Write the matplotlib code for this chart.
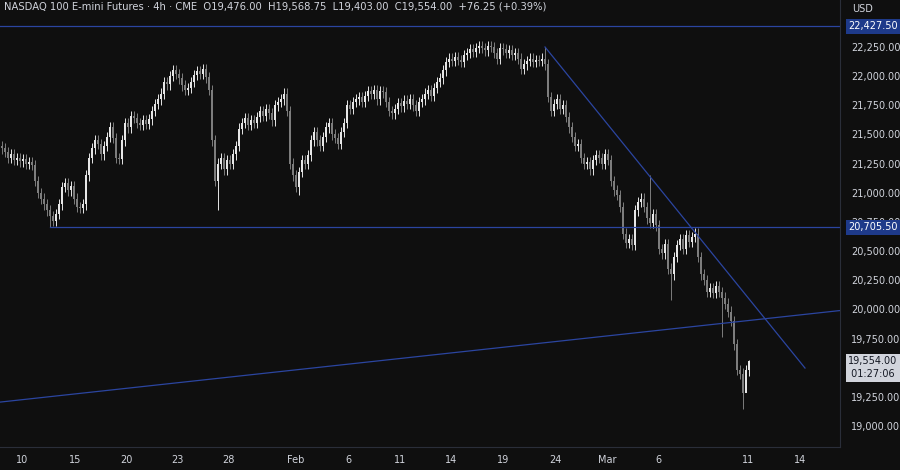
import matplotlib
matplotlib.use("Agg")
import matplotlib.pyplot as plt
from matplotlib.patches import Rectangle

closes = [
21380,21350,21300,21330,21280,21300,21270,21290,21250,21260,
21240,21100,21000,20950,20900,20850,20800,20760,20820,20900,
21050,21080,21020,21060,20950,20880,20870,20900,21150,21300,
21380,21450,21420,21330,21400,21480,21560,21470,21300,21290,
21450,21600,21560,21660,21640,21600,21580,21620,21590,21630,
21700,21760,21800,21850,21950,21930,22000,22050,22020,21980,
21920,21880,21900,21950,22010,22040,22020,22060,21990,21880,
21450,21100,21250,21300,21200,21280,21250,21330,21400,21550,
21600,21640,21580,21620,21600,21650,21700,21660,21720,21680,
21620,21750,21780,21800,21850,21700,21250,21150,21050,21180,
21280,21250,21320,21450,21520,21450,21400,21480,21560,21600,
21500,21470,21420,21520,21600,21750,21720,21780,21800,21820,
21780,21830,21870,21850,21880,21800,21870,21860,21780,21700,
21680,21720,21770,21740,21790,21760,21800,21750,21700,21780,
21800,21850,21880,21830,21900,21950,21980,22050,22120,22150,
22130,22160,22140,22120,22180,22200,22230,22210,22240,22260,
22240,22220,22260,22250,22200,22150,22240,22230,22200,22220,
22180,22200,22150,22060,22100,22130,22150,22120,22140,22130,
22150,22100,21820,21700,21760,21800,21720,21750,21650,21560,
21480,21400,21420,21300,21250,21260,21200,21280,21320,21300,
21250,21330,21280,21100,21020,20980,20880,20650,20570,20600,
20550,20850,20920,20950,20880,20780,20740,20820,20720,20520,
20480,20560,20350,20300,20450,20550,20600,20520,20640,20580,
20620,20650,20450,20300,20250,20150,20180,20140,20200,20150,
20100,20050,19980,19900,19700,19480,19450,19280,19476,19554]
first_open = 21400
special_lows = {16: 20705, 72: 20850, 99: 20980, 223: 20080, 240: 19760, 247: 19150, 248: 19403}
special_highs = {181: 22250, 216: 21150, 249: 19568.75}
wick = 45

x_ticks = [22, 75, 126, 177, 228, 296, 348, 400, 451, 503, 555, 607, 658, 748, 800]
x_labels = ["10", "15", "20", "23", "28", "Feb", "6", "11", "14", "19", "24", "Mar", "6", "11", "14"]
y_ticks = [19000, 19250, 19750, 20000, 20250, 20500, 20750, 21000, 21250, 21500, 21750, 22000, 22250]
hlines = [22427.5, 20705.5]
down_line = [(545, 22250), (805, 19497)]
up_line = [(0, 19205), (840, 19990)]

BG = "#0f0f0f"
fig = plt.figure(figsize=(9, 4.7), dpi=100, facecolor=BG)
ax = fig.add_axes([0, 23/470, 840/900, 447/470], facecolor=BG)
ax.set_xlim(0, 840)
ax.set_ylim(18820, 22653)

opens = [first_open] + closes[:-1]
for i, (o, c) in enumerate(zip(opens, closes)):
    x = 3 * i + 1.5
    hi = special_highs.get(i, max(o, c) + wick)
    lo = special_lows.get(i, min(o, c) - wick)
    col = "#e6e6e6" if c >= o else "#7d7d7d"
    ax.plot([x, x], [lo, hi], color=col, lw=0.7, solid_capstyle="butt")
    ax.add_patch(Rectangle((x - 1, min(o, c)), 2, max(abs(c - o), 8), color=col, lw=0))

lc = "#2b45a0"
ax.axhline(hlines[0], color=lc, lw=0.9)
ax.plot([50, 840], [hlines[1]] * 2, color=lc, lw=0.9)
ax.plot([p[0] for p in down_line], [p[1] for p in down_line], color=lc, lw=0.9)
ax.plot([p[0] for p in up_line], [p[1] for p in up_line], color=lc, lw=0.9)

ax.set_xticks(x_ticks)
ax.set_xticklabels(x_labels)
ax.yaxis.tick_right()
ax.set_yticks(y_ticks)
ax.set_yticklabels([f"{v:,.2f}" for v in y_ticks])
ax.tick_params(colors="#d1d4dc", labelsize=7, length=0, pad=8)
ax.tick_params(axis="x", pad=6)
for s in ["top", "left"]:
    ax.spines[s].set_visible(False)
ax.spines["right"].set_color("#2a2e39")
ax.spines["bottom"].set_color("#2a2e39")

ax.text(4, 22600, "NASDAQ 100 E-mini Futures · 4h · CME  O19,476.00  H19,568.75  L19,403.00  C19,554.00  +76.25 (+0.39%)",
        color="#d1d4dc", fontsize=7.2, va="center")
fig.text(852/900, 1 - 9/470, "USD", color="#d1d4dc", fontsize=7, va="center")

def box(price, txt, fc, tc):
    ax.text(848, price, txt, transform=ax.transData, fontsize=7, color=tc, va="center", ha="left",
            bbox=dict(boxstyle="square,pad=0.25", fc=fc, ec="none"), clip_on=False, zorder=5)

box(22427.5, "22,427.50", "#1e3a8a", "#ffffff")
box(20705.5, "20,705.50", "#1e3a8a", "#ffffff")
box(19554, "19,554.00", "#d1d4dc", "#131722")
box(19444, " 01:27:06 ", "#d1d4dc", "#131722")

fig.savefig("out.png", dpi=100, facecolor=BG)
